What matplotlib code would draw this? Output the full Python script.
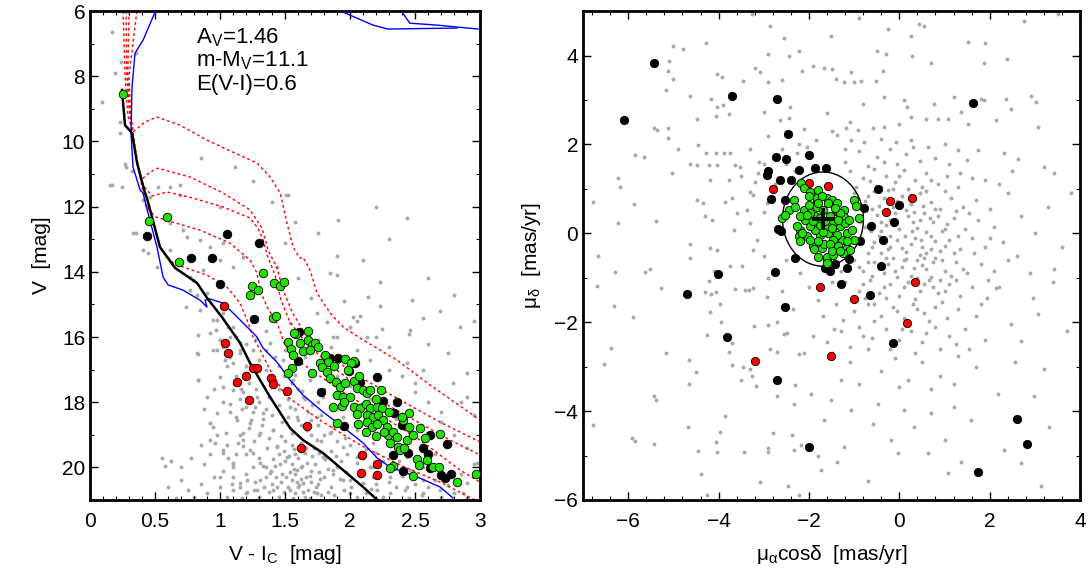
import numpy as np
import matplotlib
matplotlib.use("Agg")
import matplotlib.pyplot as plt
from matplotlib.patches import Ellipse
from matplotlib.ticker import MultipleLocator

plt.rcParams['font.family'] = ['Liberation Sans', 'DejaVu Sans']
plt.rcParams['mathtext.fontset'] = 'custom'
plt.rcParams['mathtext.rm'] = 'Liberation Sans'
plt.rcParams['mathtext.it'] = 'Liberation Sans:italic'

# --- CMD: isochrones (V-I, V) ---
zams_x = [0.246,0.269,0.323,0.362,0.423,0.438,0.538,0.654,0.823,0.90,1.015,1.154,1.231,1.385,1.538,1.638,1.792,1.946,2.10,2.21]
zams_v = [8.42,9.50,9.74,10.66,11.58,11.74,13.24,13.88,14.34,14.80,15.39,16.18,16.80,17.84,18.79,19.16,19.56,20.08,20.60,21.0]

blue_x = [0.50,0.408,0.346,0.323,0.315,0.331,0.385,0.408,0.446,0.515,0.562,0.60,0.715,0.846,0.90,0.885,0.923,1.023,1.10,1.208,1.285,1.331,1.438,1.538,1.638,1.792,1.946,2.10,2.208,2.308,2.515,2.692,2.792]
blue_v = [6.03,6.89,7.29,8.33,9.74,10.79,11.49,11.58,12.20,13.24,14.16,14.40,14.56,14.87,15.08,14.87,14.83,14.96,15.26,15.69,16.0,16.34,16.77,17.32,17.78,18.30,18.76,19.25,19.71,19.99,20.29,20.60,20.94]
blue_a_x = [1.946,2.177,2.292,2.823]
blue_a_v = [6.03,6.43,6.55,6.52]
blue_b_x = [2.40,2.46,2.67,2.985]
blue_b_v = [6.03,6.37,6.43,6.55]

pms1_x = [0.254,0.262,0.27,0.29,0.331,0.423,0.515,0.692,0.90,1.10,1.285,1.385,1.462,1.515,1.562,1.615,1.638,1.692,1.746,1.846,1.946,2.10,2.362,2.615,2.869,3.0]
pms1_v = [6.0,7.0,8.0,9.2,9.71,9.40,9.25,9.50,9.96,10.33,10.66,11.09,11.58,12.50,13.24,13.58,13.55,13.94,14.65,15.26,15.69,16.09,16.71,17.47,18.18,18.55]
pms2_x = [0.277,0.28,0.283,0.30,0.33,0.362,0.392,0.462,0.523,0.769,1.023,1.231,1.323,1.369,1.438,1.485,1.554,1.669,1.846,2.077,2.385,2.692,3.0]
pms2_v = [6.0,7.0,8.0,9.0,10.0,10.57,11.18,10.94,10.82,11.09,11.58,12.10,12.66,13.33,13.88,14.56,15.23,16.0,16.61,17.23,17.93,18.61,19.22]
pms3_x = [0.30,0.295,0.29,0.305,0.335,0.37,0.408,0.477,0.592,0.769,1.023,1.231,1.292,1.331,1.362,1.423,1.469,1.538,1.654,1.846,2.154,2.462,2.769,3.0]
pms3_v = [6.0,7.0,8.0,9.0,10.0,10.8,11.34,11.67,11.55,11.71,12.01,12.35,12.66,13.02,13.48,14.10,14.87,15.54,16.15,16.86,17.78,18.48,19.16,19.62]
pms4_x = [0.36,0.33,0.30,0.31,0.34,0.38,0.43,0.508,0.631,0.846,1.077,1.231,1.285,1.308,1.362,1.438,1.50,1.615,1.923,2.231,2.538,2.846,3.0]
pms4_v = [6.0,7.0,8.0,9.0,10.0,11.0,12.0,12.32,12.47,12.72,13.12,13.64,14.04,14.56,15.08,15.57,16.25,16.77,17.63,18.39,19.16,20.08,20.45]
pms5_x = [0.60,0.654,0.715,0.90,1.054,1.154,1.208,1.254,1.308,1.385,1.50,1.769,2.077,2.385,2.692,2.962]
pms5_v = [13.55,13.79,13.85,14.10,14.47,14.96,15.48,16.0,16.40,17.01,17.78,18.55,19.31,19.93,20.45,21.0]

# --- CMD: stars ---
cmd_field = [
    (0.167,6.63),(0.09,8.78),(0.236,7.55),(0.19,7.9),(0.23,9.4),(0.23,9.75),(0.35,7.3),(0.27,10.7),(0.28,10.78),(0.32,10.9),
    (0.154,11.34),(0.244,11.39),(0.52,11.39),(0.69,11.34),(1.115,10.78),(1.51,11.64),(0.46,11.7),(0.167,11.34),(0.615,11.39),(0.69,11.64),
    (1.525,11.64),(1.40,11.85),(1.91,12.41),(2.436,12.36),(1.577,12.46),(1.5,13.13),(2.10,13.64),(1.897,14.10),(2.23,14.30),(2.14,14.76),
    (2.23,15.05),(2.474,14.87),(2.564,15.43),(2.692,15.19),(2.846,15.68),(2.46,15.79),(2.244,15.74),(2.077,15.36),(2.0,15.68),(2.128,15.99),
    (1.872,15.99),(0.41,11.80),(0.436,12.0),(0.333,12.82),(0.41,13.33),(0.513,13.84),(0.615,12.51),(0.718,12.72),(0.744,12.92),(0.846,13.02),
    (0.923,13.23),(1.026,13.13),(1.0,13.64),(0.872,13.94),(0.769,14.15),(1.10,13.84),(1.18,13.54),(0.769,14.56),(0.82,14.71),(0.897,14.66),
    (1.026,15.27),(0.974,15.48),(1.10,15.68),(0.923,15.89),(1.0,16.09),(1.077,15.99),(1.154,16.19),(1.026,16.30),(1.538,15.58),(1.744,15.27),
    (1.82,15.53),(1.436,13.84),(1.846,14.05),(2.026,15.38),(0.356,12.82),(0.446,13.43),(0.613,13.33),(0.792,14.25),(0.741,15.07),(0.844,15.17),
    (0.831,15.94),(0.831,16.52),(0.831,17.32),(0.921,18.65),(0.946,18.75),(0.959,19.26),(1.023,19.57),(1.10,19.98),(0.998,20.28),(1.151,20.49),
    (1.049,18.95),(1.177,19.16),(1.125,18.44),(1.203,18.14),(1.10,17.63),(0.998,17.22),(1.036,16.71),(0.946,16.40),(0.972,15.79),(0.946,15.48),
    (1.228,18.65),(1.305,18.95),(1.254,19.57),(1.356,19.98),(1.305,20.39),(1.408,20.69),(1.203,20.79),(1.10,20.69),(0.82,16.50),(0.833,17.32),
    (0.923,18.65),(0.974,18.34),(0.923,19.16),(1.026,19.47),(1.10,19.87),(1.205,20.39),(1.282,20.69),(0.897,17.83),(1.026,17.52),(1.10,16.81),
    (0.974,16.40),(1.0,16.09),(1.154,16.40),(1.205,17.11),(1.282,17.83),(1.333,18.34),(1.41,18.85),(1.436,19.36),(1.513,19.67),(1.59,20.08),
    (1.641,20.49),(1.744,20.79),(1.538,20.69),(1.436,20.59),(1.385,20.18),(1.308,19.87),(1.231,19.47),(1.18,18.95),(1.128,18.55),(1.077,18.04),
    (1.538,18.14),(1.59,18.44),(1.667,18.85),(1.744,19.16),(1.795,19.67),(1.872,20.08),(1.949,20.39),(2.0,20.79),(2.10,20.49),(2.205,20.69),
    (2.308,20.79),(2.436,20.59),(2.564,20.79),(2.692,20.69),(2.872,20.79),(2.564,20.39),(2.462,20.08),(2.308,20.28),(2.179,19.98),(2.051,19.67),
    (1.949,19.36),(1.846,18.95),(1.744,18.44),(1.641,17.83),(1.564,17.32),(1.487,16.71),(1.385,16.19),(1.692,17.32),(1.795,17.83),(1.949,18.44),
    (2.051,18.85),(2.179,19.26),(2.436,19.67),(2.564,19.98),(2.769,20.28),(2.897,20.49),(2.974,19.87),(2.436,16.81),(2.564,17.01),(2.795,17.42),
    (2.897,17.83),(1.45,19.6),(1.50,19.8),(1.55,19.9),(1.58,20.2),(1.62,20.0),(1.66,20.3),(1.70,20.1),(1.73,19.9),(1.60,19.7),
    (1.55,20.4),(1.48,20.2),(1.52,20.6),(1.60,20.6),(1.68,20.7),(1.75,20.5),(1.80,20.3),(1.85,20.6),(1.78,20.85),(1.65,20.9),
    (1.45,20.9),(1.40,20.5),(1.35,20.3),(1.42,19.95),(1.57,19.45),(1.65,19.55),(1.72,19.4),(1.62,19.25),(1.50,19.2),(1.44,19.35),
    (1.38,19.1),(1.55,18.95),(1.48,18.6),(1.40,18.4),(1.35,18.2),(1.30,18.0),(1.28,17.6),(1.22,17.4),(1.18,17.7),(1.25,18.3),
    (1.32,18.7),(1.36,19.4),(1.30,19.7),(1.25,20.0),(1.20,20.2),(1.15,20.6),(1.30,20.9),(1.05,20.9),(1.00,20.6),(0.95,20.3),
    (1.10,20.3),(1.12,19.6),(1.05,19.3),(1.15,19.0),(1.22,18.8),(1.08,18.3),(1.02,18.0),(1.15,17.9),(1.12,17.2),(1.05,16.9),
    (1.08,16.6),(1.15,16.5),(1.20,16.9),(1.90,20.0),(1.95,20.7),(2.00,20.4),(2.05,20.9),(1.88,20.85),(2.12,20.8),(2.20,20.5),
    (2.25,20.9),(2.35,20.6),(2.45,20.95),(2.50,20.5),(2.40,20.25),(2.30,20.1),(2.15,20.0),(2.05,19.85),(1.98,19.6),(1.85,19.5),
    (1.78,19.2),(1.70,19.0),(1.62,18.7),(1.75,18.7),(1.68,18.3),(1.58,18.2),(1.52,17.9),(1.45,17.6),(1.40,17.3),(1.35,17.0),
    (1.30,16.7),(1.25,16.4),(1.45,16.9),(1.55,17.4),(1.65,17.9),(1.85,18.9),(2.00,19.3),(2.10,19.7),(2.25,19.8),(2.35,19.9),
    (2.60,20.6),(2.70,20.9),(2.80,20.8),(2.90,20.95),(0.90,20.8),(0.85,20.5),(0.80,20.9),(0.88,19.9),(0.92,19.6),(0.98,19.0),
    (0.75,20.7),(1.58,20.8),(1.70,20.45),(1.62,20.35),(1.54,20.15),(1.67,19.85),(1.76,20.15),(1.83,20.05),(1.47,20.45),(1.38,20.75),
    (1.92,20.35),(1.58,19.6),(1.49,19.5),(1.41,19.75),(1.33,19.95),(1.27,20.45),(1.21,20.75),(1.61,20.55),(1.72,20.75),(1.83,20.75),
    (1.97,20.15),(2.08,20.25),(2.18,20.3),(1.52,18.45),(1.45,18.1),(1.38,17.85),(1.60,18.55),(1.70,18.55),(1.80,19.0),(1.90,19.2),
    (1.26,19.2),(1.18,19.35),(1.10,19.9),(0.55,19.7),(0.58,19.95),(0.70,20.0),(0.62,19.8),(0.60,20.6),(2.6,16.2),(2.75,16.5),
    (2.9,17.1),(2.5,17.4),(2.85,18.0),(2.95,18.4),(2.7,18.3),(2.45,15.9),(2.3,16.3),(2.2,16.0),(2.05,15.5),(1.95,14.9),
    (1.7,14.8),(1.6,14.2),(1.9,13.5),(2.3,13.0),(2.6,14.2),(2.8,14.7),(2.95,15.5),(1.75,12.8),(1.25,11.2),(0.85,10.5),
    (1.0,12.0),(2.2,12.0),(1.75,16.1),(1.85,16.3),(1.9,16.0),(2.05,16.4),(2.15,16.7),(2.3,17.0),(2.4,17.2),(2.5,17.7),
    (2.6,18.0),(2.7,18.6),(2.8,19.0),(2.9,19.4),(2.95,19.9),(2.85,20.2),(2.65,19.6),(2.55,19.3),(2.45,18.9),(2.35,18.5),
    (2.25,18.2),(2.15,17.9),(2.0,17.5),(1.9,17.2),(1.8,17.6),(1.75,18.0),(1.6,17.6),(1.55,16.9),(1.5,16.4),(1.65,16.6),
    (1.63,19.95),(1.57,20.05),(1.69,20.25),(1.74,20.6),(1.59,20.45),(1.51,20.3),(1.64,20.75),(1.77,20.35),(1.81,19.75),(1.71,19.65),
    (1.53,19.65),(1.46,19.9),(1.39,20.1),(1.43,20.3),(1.34,20.6),(1.49,20.75),(1.56,20.95),(1.69,20.95),(1.87,20.2),(1.93,19.8),
    (1.89,19.65),(1.76,19.55),(1.66,19.4),(1.55,19.3),(1.47,19.05),(1.41,18.85),(1.33,18.5),(1.27,18.15),(1.21,17.95),(1.16,17.6),
    (1.11,17.45),(1.17,18.2),(1.24,18.55),(1.3,19.0),(1.2,19.6),(1.14,19.25),(1.06,19.7),(1.02,20.1),(1.09,20.5),(1.17,20.95),
    (1.26,20.7),(2.01,20.6),(2.16,20.65),(2.3,20.45),(2.42,20.7),(2.55,20.85),(2.65,20.4),(2.75,20.55),(2.48,20.1),(2.38,19.8),
    (2.2,19.55),(2.12,19.45),(1.96,19.1),(1.87,18.75),(1.78,18.4),(1.71,18.1),(1.63,17.65),(1.58,17.15),(1.49,17.2),(1.42,16.6),
    (1.35,16.4),(1.28,16.05),(1.2,16.2),(1.12,16.0),(1.06,15.7),(1.35,15.8),(0.95,17.6),(0.88,18.2),(0.85,19.3),(0.78,19.7),
    (0.7,20.4),(0.66,20.95),
]

cmd_green = [
    (0.251,8.55),(0.456,12.43),(0.59,12.31),(0.682,13.69),(1.333,14.05),(1.249,14.44),(1.29,14.56),(1.231,14.71),(1.418,14.35),(1.462,14.44),
    (1.492,14.30),(1.405,15.41),(1.431,15.35),(1.585,15.91),(1.679,15.81),(1.526,16.16),(1.615,16.19),(1.679,16.09),(1.705,16.25),(1.731,16.19),
    (1.569,15.89),(1.544,16.38),(1.636,16.42),(1.692,16.40),(1.564,16.55),(1.808,16.55),(1.833,16.76),(1.769,16.81),(1.962,16.68),(2.031,16.73),
    (2.008,16.81),(1.551,16.96),(1.521,17.09),(1.71,17.09),(1.782,16.91),(1.821,17.06),(1.987,17.01),(1.846,17.27),(1.892,17.37),(1.923,17.54),
    (1.962,17.42),(2.031,17.34),(2.051,17.57),(2.102,17.63),(2.128,17.73),(2.154,17.63),(2.236,17.61),(1.897,17.78),(1.949,17.83),(2.0,17.83),
    (1.867,18.14),(1.936,18.12),(2.031,18.14),(2.077,18.19),(2.123,18.04),(2.154,18.19),(2.205,18.14),(2.244,18.19),(2.128,18.39),(2.179,18.44),
    (2.218,18.39),(2.251,18.55),(2.128,18.60),(2.167,18.75),(2.205,18.67),(1.897,18.65),(2.064,18.68),(2.282,18.75),(2.197,19.03),(2.295,19.01),
    (2.333,18.91),(2.359,19.06),(2.41,18.55),(2.454,18.34),(2.397,18.44),(2.436,19.16),(2.372,19.37),(2.308,19.26),(2.385,19.47),(2.418,19.41),
    (2.487,19.01),(2.538,18.80),(2.577,19.11),(2.692,18.96),(2.513,19.75),(2.533,19.93),(2.59,19.77),(2.641,19.98),(2.687,19.98),(2.333,19.96),
    (2.308,20.03),(2.482,20.26),(2.821,20.44),(2.969,20.20),(1.75,16.3),(1.88,16.9),(2.07,17.2),(2.2,17.9),(2.3,18.3),(1.95,18.0),
    (2.05,18.35),(2.26,18.9),(2.45,18.75),(2.12,18.9),
]
cmd_black = [
    (0.441,12.90),(1.051,12.84),(1.303,13.10),(0.777,13.56),(0.938,13.58),(1.0,14.37),(1.262,15.46),(1.61,15.84),(1.603,16.74),(1.846,16.65),
    (1.91,16.65),(1.99,17.03),(2.038,16.81),(1.775,17.69),(2.077,17.37),(2.205,17.24),(2.256,17.95),(2.364,17.98),(2.341,18.32),(1.954,18.73),
    (2.40,18.70),(2.449,19.57),(2.333,19.63),(2.405,20.10),(2.615,19.0),(2.744,19.28),(2.564,19.41),(2.597,19.59),(2.615,20.03),(2.697,20.23),
    (2.731,20.32),(2.777,20.21),
]
cmd_red = [
    (1.031,15.05),(1.041,16.19),(1.059,16.50),(1.254,16.94),(1.285,16.96),(1.203,17.20),(1.131,17.37),(1.395,17.27),(1.41,17.43),(1.518,17.65),
    (1.223,17.93),(1.669,18.72),(1.621,19.40),(2.092,19.61),(2.205,19.90),(2.082,20.16),(2.205,20.22),
]

# --- proper motions (pmra*cosdec, pmdec) ---
pm_field = [
    (-0.887,4.85),(-0.26,4.59),(0.44,4.70),(0.55,4.66),(0.26,4.44),(-1.51,4.44),(-0.50,4.11),(-0.30,4.03),(0.29,3.99),(0.69,3.84),
    (1.53,4.31),(1.90,4.29),(1.88,3.84),(2.38,3.92),(2.75,4.78),(3.51,4.93),(-1.92,3.77),(-1.66,3.73),(-1.48,3.70),(-1.07,3.62),
    (-1.40,3.47),(-1.22,3.40),(-1.0,3.40),(-0.85,3.43),(-0.52,3.42),(-0.37,3.66),(-0.33,3.06),(0.11,2.99),(0.18,2.84),(0.77,2.91),
    (1.22,3.06),(1.37,2.73),(1.81,3.03),(1.88,2.99),(2.36,3.03),(2.92,3.10),(3.03,2.95),(2.47,2.80),(2.14,2.54),(1.51,2.47),
    (1.07,2.58),(0.85,2.58),(0.59,2.58),(0.26,2.61),(0.0,2.47),(-0.33,2.39),(-0.59,2.36),(-0.92,2.32),(-1.18,2.36),(-1.37,2.21),
    (-1.07,2.09),(-0.78,2.06),(-0.41,2.13),(-0.07,2.06),(0.26,2.09),(0.63,1.94),(1.0,2.02),(1.29,1.87),(1.73,1.87),(2.32,1.80),
    (2.62,1.68),(3.43,1.35),(3.06,2.39),(-5.0,4.22),(-4.79,4.14),(-4.28,4.28),(-5.09,3.87),(-5.11,3.66),(-5.0,3.47),(-5.16,3.23),
    (-4.04,3.58),(-3.93,3.51),(-3.45,3.43),(-4.17,3.03),(-4.04,2.84),(-3.91,2.88),(-4.06,2.65),(-3.78,2.69),(-4.48,2.58),(-4.63,3.10),
    (-5.43,2.36),(-5.37,2.33),(-5.11,2.38),(-5.13,2.15),(-4.89,1.89),(-4.45,1.98),(-4.28,1.80),(-4.06,1.80),(-3.89,1.81),(-3.74,1.80),
    (-4.04,1.53),(-4.22,1.53),(-4.48,1.53),(-4.63,1.57),(-3.63,1.53),(-3.52,1.50),(-5.85,1.76),(-5.66,1.72),(-6.22,1.24),(-6.18,1.05),
    (-6.79,0.71),(-5.87,0.66),(-5.04,1.36),(-4.20,1.21),(-3.78,1.21),(-4.48,0.75),(-4.34,0.68),(-3.85,0.71),(-3.71,0.79),(-3.30,0.94),
    (-3.23,0.87),(-3.37,0.53),(-3.60,0.45),(-4.30,0.38),(-4.15,0.31),(-3.67,0.08),(-3.0,0.49),(-3.30,0.23),(-3.15,-0.14),(-6.22,0.23),
    (-5.38,0.27),(-4.63,-0.25),(-4.19,-0.33),(-4.04,-0.37),(-3.23,-0.37),(-2.93,0.68),(-3.12,1.35),(-3.0,1.57),(-2.27,1.80),(-2.23,2.02),
    (-2.42,2.84),(-2.64,2.54),(-3.0,2.73),(-2.90,3.40),(-2.60,3.45),(-3.08,3.62),(-3.19,3.73),(-2.56,4.40),(-2.45,3.99),(-2.86,4.66),
    (-2.90,4.03),(-2.23,4.11),(-2.16,3.66),(-3.26,4.93),(-6.66,-0.52),(-6.70,-1.19),(-6.29,-0.86),(-5.63,-0.86),(-5.52,-0.81),(-5.27,-1.24),
    (-6.31,-1.63),(-5.89,-1.89),(-6.38,-2.59),(-6.53,-2.94),(-5.17,-2.69),(-4.65,-2.86),(-4.50,-3.11),(-4.66,-3.38),(-4.31,-1.33),(-4.17,-1.37),
    (-4.05,-1.33),(-4.63,-0.55),(-4.22,-1.07),(-4.11,-0.84),(-3.74,-0.74),(-3.49,-0.74),(-3.63,-1.26),(-3.41,-1.28),(-3.32,-1.28),(-3.23,-1.22),
    (-2.93,-1.43),(-3.97,-1.60),(-4.19,-1.78),(-3.95,-2.0),(-4.25,-2.29),(-3.71,-2.47),(-3.78,-2.66),(-3.71,-2.97),(-3.47,-3.01),(-3.30,-3.05),
    (-3.51,-3.31),(-3.26,-3.20),(-3.17,-3.44),(-3.21,-2.08),(-2.90,-2.06),(-2.86,-2.60),(-2.71,-2.68),(-2.56,-2.27),(-2.49,-2.25),(-2.70,-3.65),
    (-2.30,-3.42),(-2.23,-2.71),(-2.34,-3.83),(-3.86,-4.11),(-5.44,-3.65),(-5.38,-3.76),(-6.77,-4.32),(-5.92,-4.61),(-5.85,-4.67),(-5.44,-4.74),
    (-4.67,-4.35),(-4.45,-4.89),(-4.06,-4.70),(-4.04,-4.93),(-3.97,-4.46),(-3.43,-4.93),(-2.90,-4.82),(-2.90,-4.93),(-2.80,-4.49),(-2.38,-4.54),
    (-2.34,-4.87),(-2.18,-4.76),(-4.39,-5.42),(-3.08,-5.60),(-2.47,-5.69),(-4.26,-5.88),(-2.23,-5.88),(1.96,-1.04),(2.14,-1.22),(2.95,-1.45),
    (3.06,-1.82),(3.43,-0.81),(2.47,-2.04),(2.69,-2.42),(3.21,-3.05),(2.55,-2.90),(2.18,-3.61),(2.99,-3.65),(3.32,-4.35),(2.32,-4.87),
    (2.69,-5.17),(3.14,-5.69),(1.07,-5.40),(0.63,-4.95),(0.33,-4.35),(-0.19,-4.65),(-0.70,-5.58),(-1.37,-5.14),(-1.74,-5.32),(-1.81,-5.02),
    (-1.66,-4.20),(-1.22,-4.80),(-0.59,-4.28),(-0.04,-4.95),(1.0,-4.65),(1.37,-5.14),(1.59,-4.20),(1.22,-3.90),(0.70,-4.05),(0.11,-3.98),
    (-0.48,-3.83),(-1.07,-3.98),(-1.51,-3.76),(-1.96,-3.61),
    (-0.9,1.85),(-0.5,1.72),(-0.2,1.9),(0.15,1.78),(0.45,1.62),(0.8,1.7),(1.1,1.55),(-1.2,1.6),(-0.7,1.52),(0.3,1.95),
    (1.5,1.65),(-0.05,1.55),(-1.1,1.4),(-0.8,1.25),(-0.55,1.45),(-0.3,1.3),(-0.1,1.15),(0.1,1.42),(0.35,1.2),(0.6,1.35),
    (0.85,1.1),(1.05,1.3),(1.3,1.05),(1.6,1.25),(-0.95,1.05),(-0.4,1.05),(0.2,1.0),(0.5,1.05),(1.9,1.2),(-0.65,1.18),
    (0.0,1.3),(-1.0,0.9),(-0.75,0.72),(-0.55,0.95),(-0.35,0.8),(-0.15,0.6),(0.05,0.85),(0.25,0.65),(0.45,0.9),(0.7,0.7),
    (0.9,0.55),(1.15,0.8),(1.4,0.6),(1.7,0.75),(2.0,0.55),(-0.6,0.55),(0.15,0.52),(0.6,0.95),(-0.25,0.98),(0.35,0.78),
    (-0.85,0.55),(1.0,0.95),(-0.95,0.35),(-0.75,0.15),(-0.5,0.42),(-0.4,0.05),(-0.2,0.3),(0.0,0.1),(0.2,0.38),(0.4,0.12),
    (0.55,0.45),(0.75,0.25),(0.95,0.05),(1.2,0.35),(1.45,0.1),(1.75,0.3),(2.1,0.15),(-0.6,0.2),(0.3,0.25),(0.85,0.4),
    (-0.1,0.45),(0.6,0.02),(1.05,0.22),(-0.3,0.18),(-0.85,-0.1),(-0.6,-0.3),(-0.45,-0.05),(-0.25,-0.35),(-0.05,-0.15),(0.15,-0.42),
    (0.35,-0.1),(0.5,-0.3),(0.7,-0.05),(0.9,-0.4),(1.1,-0.15),(1.35,-0.35),(1.6,-0.1),(1.9,-0.3),(2.3,-0.2),(-0.2,-0.05),
    (0.25,-0.25),(0.6,-0.45),(0.05,-0.32),(-0.4,-0.45),(1.0,-0.28),(0.8,-0.18),(-0.7,-0.45),(0.45,-0.48),(-1.0,-0.6),(-0.8,-0.85),
    (-0.55,-0.65),(-0.35,-0.9),(-0.15,-0.55),(0.05,-0.75),(0.25,-0.95),(0.4,-0.6),(0.6,-0.8),(0.8,-0.55),(1.0,-0.85),(1.25,-0.65),
    (1.5,-0.9),(1.8,-0.7),(2.1,-0.85),(-0.05,-0.98),(0.7,-0.98),(0.15,-0.58),(-0.45,-0.78),(1.15,-0.95),(0.5,-0.72),(-0.25,-0.7),
    (-1.2,-1.1),(-0.9,-1.3),(-0.65,-1.05),(-0.45,-1.35),(-0.2,-1.15),(0.0,-1.4),(0.2,-1.1),(0.45,-1.3),(0.65,-1.05),(0.85,-1.35),
    (1.1,-1.15),(1.35,-1.4),(1.6,-1.2),(1.95,-1.45),(-0.3,-1.45),(0.35,-1.48),(0.75,-1.2),(-0.75,-1.45),(-1.4,-1.6),(-1.0,-1.75),
    (-0.7,-1.6),(-0.4,-1.85),(-0.15,-1.65),(0.1,-1.9),(0.3,-1.6),(0.55,-1.8),(0.8,-1.65),(1.05,-1.9),(1.3,-1.7),(1.7,-1.85),
    (-0.55,-1.98),(0.65,-1.98),(-1.3,-2.2),(-0.9,-2.1),(-0.6,-2.35),(-0.3,-2.15),(0.0,-2.4),(0.25,-2.2),(0.5,-2.45),(0.8,-2.1),
    (1.1,-2.3),(1.45,-2.15),(1.9,-2.4),(-1.6,-2.45),(-1.5,-2.7),(-1.1,-2.9),(-0.7,-2.6),(-0.4,-3.1),(-0.1,-2.8),(0.2,-3.3),
    (0.5,-2.9),(0.9,-3.2),(1.3,-2.75),(1.7,-3.0),(-0.9,-3.4),(0.0,-3.45),(0.7,-3.5),(1.2,-3.4),(-1.3,-3.3),(-2.5,1.55),
    (-2.3,1.4),(-2.05,1.95),(-1.85,2.1),(-1.5,2.3),(-1.2,1.9),(-2.6,1.9),(-2.9,2.2),(-3.3,1.9),(-3.1,1.6),(-2.75,1.1),
    (-3.2,1.15),(-3.5,1.3),(-2.45,2.6),(-1.6,2.7),(-1.1,2.5),(-0.8,2.9),(-2.1,2.35),(-2.5,-0.6),(-2.2,-0.9),(-2.0,-1.2),
    (-1.8,-1.5),(-2.6,-1.3),(-2.9,-1.0),(-3.0,-0.5),(-2.35,-1.7),(-2.7,-2.0),(-1.5,-1.1),(-1.3,-0.85),(-1.9,-2.3),(-1.7,-1.85),
    (-2.1,-2.7),(2.4,0.9),(2.7,0.4),(3.0,0.0),(3.3,0.6),(3.6,-0.3),(2.6,-0.5),(2.9,-0.9),(3.4,-1.1),(3.8,0.9),
    (3.2,1.5),(2.5,1.4),(3.7,-2.2),(2.2,1.1),
    (-0.7,0.85),(-0.45,0.62),(-0.05,0.72),(0.32,0.48),(0.52,0.62),(0.78,0.55),(1.25,0.5),(-0.88,0.25),(-0.62,0.05),(-0.12,0.18),
    (0.12,-0.05),(0.28,0.05),(0.48,-0.15),(0.68,0.35),(1.0,0.1),(1.3,-0.05),(-0.55,-0.2),(-0.3,-0.55),(0.1,-0.6),(0.32,-0.78),
    (0.55,-0.55),(0.75,-0.65),(0.95,-0.6),(1.2,-0.45),(-0.9,-0.75),(-0.6,-0.95),(-0.1,-0.85),(0.4,-1.0),(0.9,-1.05),(1.4,-0.8),
    (-0.8,-1.15),(-0.35,-1.2),(0.1,-1.2),(0.55,-1.15),(1.0,-1.3),(1.25,-1.05),(-0.55,-1.6),(-0.05,-1.75),(0.4,-1.7),(0.95,-1.55),
    (-1.0,-1.45),(-0.2,-0.3),(0.7,-0.35),(-0.4,0.25),(0.45,0.3),(1.55,0.45),(1.65,-0.45),(-0.15,1.0),(0.7,1.2),(-0.35,1.6),
    (1.35,1.35),(0.05,-2.15),(-0.8,-2.3),(0.6,-2.25),(1.25,-2.5),(-0.2,-2.6),(0.35,-2.7),(0.9,-2.6),(-1.1,-2.55),(1.55,-2.6),
    (-1.25,-1.95),(-1.45,-2.15),(1.8,-1.6),(2.2,-1.2),(2.0,-0.1),(2.4,-0.6),(-0.7,-0.65),
]
pm_green = [
    (-2.17,1.13),(-2.12,1.01),(-1.97,0.94),(-1.79,0.98),(-1.60,0.79),(-1.49,0.75),(-1.38,0.68),(-2.34,0.74),(-2.01,0.84),(-1.82,0.79),
    (-1.01,0.75),(-0.96,0.62),(-2.59,0.34),(-2.45,0.53),(-2.30,0.59),(-2.12,0.53),(-2.01,0.64),(-1.22,0.53),(-1.22,0.37),(-0.89,0.34),
    (-2.19,0.08),(-2.23,-0.07),(-2.19,-0.18),(-2.05,-0.07),(-1.90,-0.29),(-1.88,-0.35),(-1.71,-0.33),(-1.66,-0.25),(-1.81,-0.54),(-1.59,-0.53),
    (-1.46,-0.48),(-1.60,-0.66),(-1.16,-0.33),(-1.09,-0.37),(-1.27,-0.14),(-1.16,0.01),(-1.31,0.16),(-1.38,-0.03),(-1.46,-0.14),(-1.57,0.01),
    (-1.75,-0.03),(-1.86,0.08),(-1.97,0.16),(-2.08,0.31),(-1.86,0.38),(-1.97,0.45),(-1.82,0.60),(-1.68,0.53),(-1.53,0.38),(-1.46,0.23),
    (-1.60,0.16),(-1.75,0.19),(-1.90,0.27),(-1.31,0.45),(-1.42,0.57),(-1.20,0.23),(-1.05,0.08),(-1.97,-0.14),(-1.79,-0.18),(-1.53,-0.25),
    (-1.35,-0.29),(-1.24,-0.44),(-1.49,-0.40),(-2.27,0.16),(-2.16,0.01),(-2.53,0.42),(-1.01,-0.14),(-1.71,0.83),(-1.57,0.68),(-1.79,0.68),
    (-2.19,0.38),(-2.05,0.42),(-1.75,0.34),(-1.64,0.27),(-1.49,0.12),(-1.68,0.04),(-1.35,0.31),(-1.12,0.31),(-1.16,-0.18),(-1.31,-0.40),
]
pm_black = [
    (-5.42,3.84),(-6.085,2.56),(-3.70,3.10),(-2.703,3.02),(-2.466,2.24),(-2.72,1.71),(-2.51,1.68),(-2.896,1.41),(-2.93,1.31),(-2.65,1.21),
    (-2.40,1.21),(-2.21,1.42),(-2.83,0.77),(-2.53,0.75),(-2.675,0.097),(-2.62,0.044),(-1.995,1.76),(-1.86,1.48),(-1.618,1.48),(1.62,2.94),
    (-0.48,0.99),(0.0,0.64),(-0.79,0.57),(-0.62,0.17),(-0.11,0.245),(-0.865,-0.17),(-0.37,-0.14),(-1.125,-0.57),(-1.16,-0.775),(-1.42,-0.70),
    (-1.64,-0.79),(-1.53,-0.85),(-2.30,-0.55),(-2.75,-0.86),(-0.415,-0.74),(-1.29,-1.13),(-0.64,-1.39),(-2.54,-1.65),(-4.01,-0.92),(-4.70,-1.37),
    (-3.82,-2.33),(-2.70,-3.29),(-0.15,-2.47),(-2.0,-4.81),(2.606,-4.18),(2.83,-4.75),(1.73,-5.36),(-1.59,-0.59),
]
pm_red = [
    (-2.80,1.0),(-1.995,1.125),(-1.57,1.07),(-1.82,0.71),(-1.40,0.51),(-0.207,0.73),(0.27,0.80),(-0.295,0.49),(-1.75,-1.21),(-1.0,-1.48),
    (0.34,-1.09),(0.18,-2.01),(-1.51,-2.75),(-3.20,-2.88),
]
pm_center = (-1.69, 0.32)
pm_radius = (1.79, 2.12)  # full width / height of the membership ellipse

gray = '#aaaaaa'
fig = plt.figure(figsize=(10.9, 5.82), dpi=100)
ax1 = fig.add_axes([0.0826, 0.1409, 0.3578, 0.840])
ax2 = fig.add_axes([0.5349, 0.1409, 0.4560, 0.840])

def style(ax):
    ax.tick_params(which='both', direction='in', top=True, right=True, labelsize=15)
    ax.tick_params(which='major', length=6, width=1)
    ax.tick_params(which='minor', length=3, width=0.8)
    for s in ax.spines.values():
        s.set_linewidth(2)

def xy(pts):
    a = np.array(pts)
    return a[:, 0], a[:, 1]

# left: CMD
fx, fv = xy(cmd_field)
ax1.scatter(fx, fv, s=8, c=gray, lw=0, zorder=1)
for px_, pv_ in [(pms1_x, pms1_v), (pms2_x, pms2_v), (pms3_x, pms3_v), (pms4_x, pms4_v), (pms5_x, pms5_v)]:
    ax1.plot(px_, pv_, color='red', lw=1, ls=(0, (2, 2)), zorder=2)
ax1.plot(blue_x, blue_v, color='blue', lw=1, zorder=3)
ax1.plot(blue_a_x, blue_a_v, color='blue', lw=1, zorder=3)
ax1.plot(blue_b_x, blue_b_v, color='blue', lw=1, zorder=3)
ax1.plot(zams_x, zams_v, color='black', lw=1.8, zorder=4)
for pts, col in [(cmd_black, 'black'), (cmd_red, 'red'), (cmd_green, '#22e000')]:
    x, v = xy(pts)
    ax1.scatter(x, v, s=38, c=col, edgecolors='black', linewidths=0.6, zorder=5)

ax1.text(0.815, 6.99, r'A$_\mathrm{V}$=1.46', fontsize=16, va='baseline')
ax1.text(0.815, 7.70, r'm-M$_\mathrm{V}$=11.1', fontsize=16, va='baseline')
ax1.text(0.815, 8.42, 'E(V-I)=0.6', fontsize=16, va='baseline')

ax1.set_xlim(0, 3)
ax1.set_ylim(21, 6)
ax1.xaxis.set_minor_locator(MultipleLocator(0.1))
ax1.yaxis.set_major_locator(MultipleLocator(2))
ax1.yaxis.set_minor_locator(MultipleLocator(1))
ax1.set_xticks([0, 0.5, 1, 1.5, 2, 2.5, 3])
ax1.set_xticklabels(['0', '0.5', '1', '1.5', '2', '2.5', '3'])
ax1.set_xlabel(r'V - I$_\mathrm{C}$  [mag]', fontsize=15, labelpad=8)
ax1.set_ylabel('V  [mag]', fontsize=15, labelpad=8)
style(ax1)
ax1.tick_params(axis='x', pad=9)

# right: proper motions
gx, gy = xy(pm_field)
ax2.scatter(gx, gy, s=8, c=gray, lw=0, zorder=1)
ax2.add_patch(Ellipse(pm_center, pm_radius[0], pm_radius[1], fill=False, ec='black', lw=1, zorder=2))
for pts, col in [(pm_black, 'black'), (pm_red, 'red'), (pm_green, '#22e000')]:
    x, y = xy(pts)
    ax2.scatter(x, y, s=36, c=col, edgecolors='black', linewidths=0.6, zorder=3)
ax2.plot(*pm_center, marker='+', ms=16, mew=2.8, color='black', zorder=6)

ax2.set_xlim(-7, 4)
ax2.set_ylim(-6, 5)
ax2.xaxis.set_major_locator(MultipleLocator(2))
ax2.xaxis.set_minor_locator(MultipleLocator(0.4))
ax2.yaxis.set_major_locator(MultipleLocator(2))
ax2.yaxis.set_minor_locator(MultipleLocator(1))
ax2.set_xlabel(r'μ$_\mathrm{α}$cosδ  [mas/yr]', fontsize=15, labelpad=8)
ax2.set_ylabel(r'μ$_\mathrm{δ}$  [mas/yr]', fontsize=15, labelpad=8)
style(ax2)
ax2.tick_params(axis='x', pad=9)

fig.savefig('out.png', dpi=100)
